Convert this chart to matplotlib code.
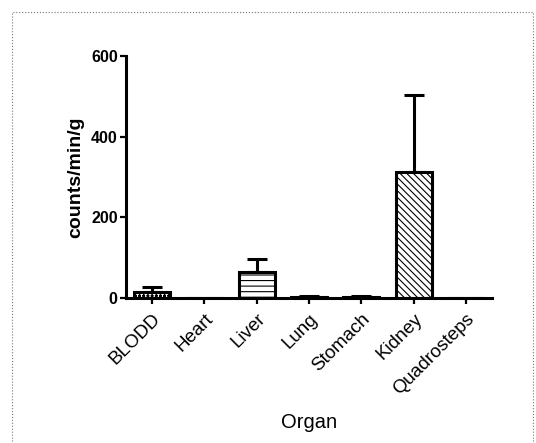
import matplotlib
matplotlib.use("Agg")
import matplotlib.pyplot as plt
from matplotlib.patches import Rectangle

plt.rcParams['font.family'] = ['Liberation Sans', 'DejaVu Sans']
plt.rcParams['hatch.linewidth'] = 0.8

organs = ['BLODD', 'Heart', 'Liver', 'Lung', 'Stomach', 'Kidney', 'Quadrosteps']
means = [15, 1, 64, 4, 4, 313, 0]
errs = [13, 0, 32, 2, 2, 190, 0]
hatches = ['oooo', '', '---', '', '', '\\\\\\\\\\', '']

fig = plt.figure(figsize=(5.36, 4.43), dpi=100)
ax = fig.add_axes([0.235, 0.327, 0.683, 0.547])

x = range(len(organs))
for i in x:
    ax.bar(i, means[i], width=0.69, color='white', edgecolor='black',
           linewidth=2.2, hatch=hatches[i], zorder=2)
    if errs[i] > 0:
        ax.errorbar(i, means[i], yerr=[[0], [errs[i]]], fmt='none',
                    ecolor='black', elinewidth=2.2, capsize=7, capthick=2.2,
                    zorder=1)

ax.set_xlim(-0.5, 6.5)
ax.set_ylim(0, 600)
ax.set_yticks([0, 200, 400, 600])
ax.set_xticks(list(x))
ax.set_xticklabels(organs, rotation=45, ha='right', rotation_mode='anchor',
                   fontsize=13.5)
for lab in ax.get_yticklabels():
    lab.set_fontweight('bold')
    lab.set_fontsize(11.5)

ax.spines['top'].set_visible(False)
ax.spines['right'].set_visible(False)
ax.spines['left'].set_linewidth(2.2)
ax.spines['bottom'].set_linewidth(2.2)
ax.tick_params(axis='both', width=1.6, length=4, direction='out', pad=2)
ax.tick_params(axis='x', pad=5)

ax.set_ylabel('counts/min/g', fontsize=14, fontweight='bold', labelpad=5)
ax.set_xlabel('Organ', fontsize=14.5, labelpad=11)

fig.patches.append(Rectangle((12 / 536, -0.01), 521 / 536, 1.01 - 12 / 443,
                             transform=fig.transFigure, fill=False,
                             edgecolor='#777777', linestyle=':', linewidth=0.8))

fig.savefig('out.png', dpi=100)
